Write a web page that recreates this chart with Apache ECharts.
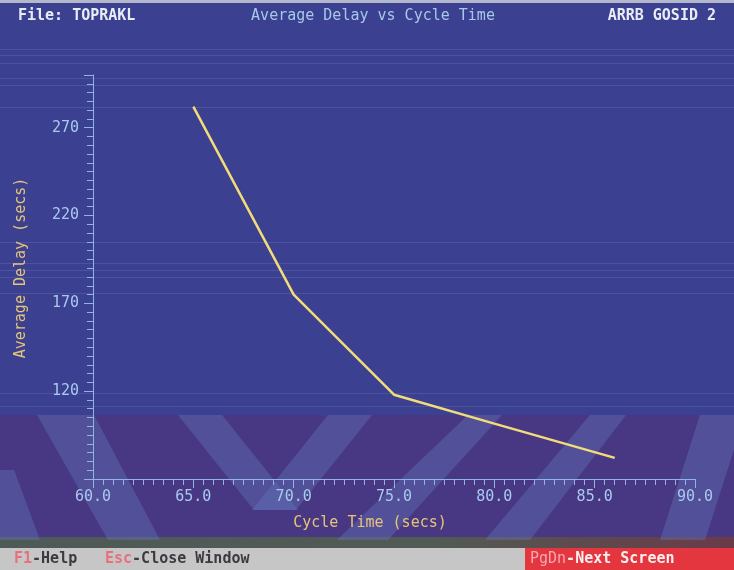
<!DOCTYPE html>
<html><head><meta charset="utf-8">
<script src="https://cdn.jsdelivr.net/npm/echarts@6/dist/echarts.min.js"></script>
<style>html,body{margin:0;padding:0;background:#3c4290}#c{width:734px;height:570px}</style>
</head><body><div id="c"></div>
<script>
// ---- data ----
const cycleTime = [65, 70, 75, 80, 86];
const avgDelay  = [282, 175, 118, 101.5, 82];
const xLabelValues = [60, 65, 70, 75, 80, 85, 90];
const yLabelValues = [120, 170, 220, 270];
const headerLeft = 'File: TOPRAKL';
const headerTitle = 'Average Delay vs Cycle Time';
const headerRight = 'ARRB GOSID 2';
const xName = 'Cycle Time (secs)';
const yName = 'Average Delay (secs)';

const FONT = 'DejaVu Sans Mono';
const AXIS_C = '#8fb4e4';
const LABEL_C = '#a9c9ee';
const NAME_C = '#e6c47a';

const chart = echarts.init(document.getElementById('c'), null, {renderer: 'canvas'});

// background decoration (photo of a DOS screen)
const bands = [
  [[37,415],[94,415],[160,540],[108,540]],
  [[178,415],[222,415],[298,510],[254,510]],
  [[328,415],[372,415],[296,510],[252,510]],
  [[468,415],[502,415],[388,540],[337,540]],
  [[590,415],[626,415],[530,540],[485,540]],
  [[700,415],[745,415],[705,540],[660,540]],
  [[0,470],[14,470],[40,540],[0,540]]
];
const scanLines = [49, 55, 63, 78, 85, 107, 242, 263, 270, 277, 293, 393, 406];
const graphics = [
  {type:'rect', z:-20, shape:{x:0,y:0,width:734,height:570}, style:{fill:'#3b4190'}},
  {type:'rect', z:-19, shape:{x:0,y:415,width:734,height:133}, style:{fill:'#483884'}},
  {type:'rect', z:-19, shape:{x:0,y:0,width:734,height:3}, style:{fill:'#b4b8cc'}},
  {type:'rect', z:-19, shape:{x:0,y:537,width:734,height:11},
    style:{fill:new echarts.graphic.LinearGradient(0,0,1,0,[{offset:0,color:'#4e5a58'},{offset:0.6,color:'#525a54'},{offset:1,color:'#6a3a48'}])}},
  {type:'rect', z:-19, shape:{x:0,y:548,width:525,height:22}, style:{fill:'#c6c6c6'}},
  {type:'rect', z:-19, shape:{x:525,y:548,width:209,height:22}, style:{fill:'#e3363f'}}
];
bands.forEach(p => graphics.push({type:'polygon', z:-18, shape:{points:p}, style:{fill:'rgba(100,120,190,0.38)'}}));
scanLines.forEach(y => graphics.push({type:'rect', z:-17, shape:{x:0,y:y,width:734,height:1}, style:{fill:'rgba(150,165,225,0.18)'}}));

const f = (w) => (w ? 'bold ' : '') + '15px "' + FONT + '"';
// header texts
graphics.push(
  {type:'text', z:5, x:18, y:16, style:{text:headerLeft, font:f(true), fill:'#e8ecf4', verticalAlign:'middle'}},
  {type:'text', z:5, x:373, y:16, style:{text:headerTitle, font:f(false), fill:'#a6c8ea', align:'center', verticalAlign:'middle'}},
  {type:'text', z:5, x:716, y:16, style:{text:headerRight, font:f(true), fill:'#e8ecf4', align:'right', verticalAlign:'middle'}}
);
// footer texts
graphics.push(
  {type:'text', z:5, x:14, y:559, style:{text:'{k|F1}{t|-Help}', verticalAlign:'middle',
    rich:{k:{font:f(true), fill:'#e8707c'}, t:{font:f(true), fill:'#3a3a40'}}}},
  {type:'text', z:5, x:105, y:559, style:{text:'{k|Esc}{t|-Close Window}', verticalAlign:'middle',
    rich:{k:{font:f(true), fill:'#e8707c'}, t:{font:f(true), fill:'#3a3a40'}}}},
  {type:'text', z:5, x:530, y:559, style:{text:'{k|PgDn}{t|-Next Screen}', verticalAlign:'middle',
    rich:{k:{font:f(false), fill:'#f6a8b4'}, t:{font:f(true), fill:'#fbeeee'}}}}
);

const option = {
  animation: false,
  backgroundColor: '#3b4190',
  graphic: graphics,
  grid: {left: 93, right: 39, top: 75, bottom: 91, containLabel: false, outerBoundsMode: 'none'},
  xAxis: [{
    type: 'value', min: 60, max: 90, interval: 0.5,
    name: xName, nameLocation: 'middle', nameGap: 37,
    nameTextStyle: {color: NAME_C, fontFamily: FONT, fontSize: 15, padding: [0, 48, 0, 0]},
    axisLine: {show: true, lineStyle: {color: AXIS_C, width: 1}},
    axisTick: {show: true, length: 6, lineStyle: {color: AXIS_C}},
    splitLine: {show: false},
    axisLabel: {margin: 11, color: LABEL_C, fontFamily: FONT, fontSize: 15,
      formatter: v => xLabelValues.some(t => Math.abs(t - v) < 1e-6) ? v.toFixed(1) : ''}
  }, {
    type: 'value', min: 60, max: 90, interval: 5, position: 'bottom',
    axisLine: {show: false}, axisTick: {show: true, length: 9, lineStyle: {color: AXIS_C}},
    axisLabel: {show: false}, splitLine: {show: false}
  }],
  yAxis: [{
    type: 'value', min: 70, max: 300, interval: 5,
    name: yName, nameLocation: 'middle', nameGap: 64,
    nameTextStyle: {color: NAME_C, fontFamily: FONT, fontSize: 15, padding: [0, 0, 0, 18]},
    axisLine: {show: true, lineStyle: {color: AXIS_C, width: 1}},
    axisTick: {show: true, length: 6, lineStyle: {color: AXIS_C}},
    splitLine: {show: false},
    axisLabel: {margin: 14, color: LABEL_C, fontFamily: FONT, fontSize: 15,
      formatter: v => yLabelValues.some(t => Math.abs(t - v) < 1e-6) ? String(v) : ''}
  }, {
    type: 'value', min: 70, max: 300, interval: 50, position: 'left',
    axisLine: {show: false}, axisTick: {show: true, length: 9, lineStyle: {color: AXIS_C}},
    axisLabel: {show: false}, splitLine: {show: false}
  }],
  series: [{
    type: 'line', xAxisIndex: 0, yAxisIndex: 0,
    data: cycleTime.map((x, i) => [x, avgDelay[i]]),
    symbol: 'none',
    lineStyle: {color: '#f2dc7a', width: 2.5},
    z: 3
  }]
};
chart.setOption(option);
</script>
</body></html>
